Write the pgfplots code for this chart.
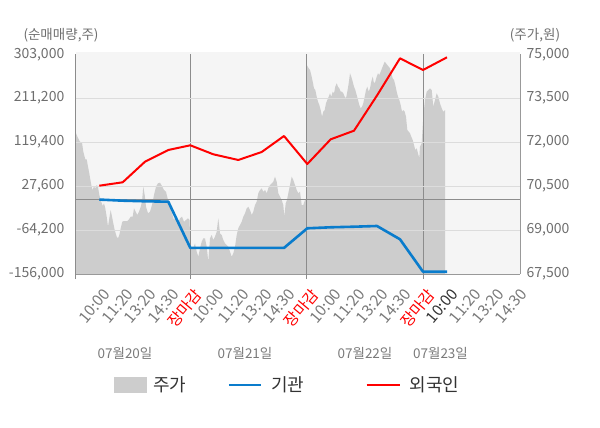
\documentclass[border=0pt]{standalone}
\usepackage{fontspec}
\setmainfont{Noto Sans CJK KR}
\usepackage{pgfplots}
\pgfplotsset{compat=1.18}
\definecolor{bg}{HTML}{F5F5F5}
\definecolor{areagray}{HTML}{CDCDCD}
\definecolor{gridgray}{HTML}{DCDCDC}
\definecolor{sepgray}{HTML}{8C8C8C}
\definecolor{axisgray}{HTML}{999999}
\definecolor{labgray}{HTML}{6E6E6E}
\definecolor{xgray}{HTML}{7A7A7A}
\definecolor{darktick}{HTML}{333333}
\definecolor{legtext}{HTML}{333333}
\definecolor{blueline}{HTML}{0A7CCC}
\definecolor{redline}{HTML}{FF0000}
\begin{document}
\begin{tikzpicture}
\useasboundingbox (0pt,0pt) rectangle (600pt,-428pt);
\fill[bg] (76pt,-274pt) rectangle (520pt,-51.7pt);
% ---------- price area (right axis)
\begin{axis}[
  at={(76pt,-274pt)}, anchor=south west,
  scale only axis, width=444pt, height=219.7pt,
  xmin=0, xmax=444, ymin=67500, ymax=75000,
  scaled y ticks=false, scaled x ticks=false,
  axis x line=none, axis y line*=right,
  y axis line style={draw=axisgray, line width=1pt, -},
  xtick=\empty,
  ytick={67500,69000,70500,72000,73500,75000},
  yticklabels={{67,500},{69,000},{70,500},{72,000},{73,500},{75,000}},
  major tick length=0pt,
  yticklabel style={font=\fontsize{14pt}{16pt}\selectfont, text=labgray, anchor=west, inner sep=0pt, xshift=6.5pt},
]
\addplot[fill=areagray, draw=none] coordinates {
(0,72303) (2,72142) (4,72016) (6,71982) (7.3,71675) (9.3,71415) (10.7,71415) (12,71163) (13.3,70937) (14.7,70651) (16.3,70367) (18,70480) (19.3,70425) (20.7,70538) (22,70480) (23.3,70196) (25.3,69968) (26.7,69821) (28,69913) (29.3,69742) (30.7,69456) (32,69114) (33.3,69401) (34.7,69684) (36,69456) (37.3,69230) (38.7,69002) (40.7,68773) (42,68718) (43.3,68831) (44.7,69060) (46.3,69285) (48,69309) (51.3,69309) (53,69367) (54.7,69456) (56.7,69456) (58,69742) (59.7,69626) (61.3,69514) (63,69626) (64.7,69797) (66,69968) (67.3,70480) (68.7,70196) (70,69797) (72,69572) (74,69626) (76,69855) (78,70196) (80,70480) (82,70596) (84,70616) (86,70504) (88,70367) (90,70309) (92,70026) (94,69855) (96,69572) (98,69343) (100,69456) (102,69230) (104,69401) (106,69456) (108,69285) (110,69343) (112,69401) (113.5,69343)
(114.5,68431) (117,68350) (119,68548) (120.7,68261) (122.3,68090) (124,68377) (125.7,68602) (127.3,68718) (129,68718) (130.7,68431) (132.3,67919) (134,68718) (135.7,68831) (137.3,68660) (139,68773) (140.7,68944) (142.3,69401) (144,68889) (145.7,68831) (147.3,68660) (149,68548) (150.7,68489) (152.3,68431) (154,68261) (155.7,68090) (157.3,68206) (159,68431) (160.7,68831) (162.3,69060) (164,69172) (165.7,69285) (167.3,69456) (169,69572) (170.7,69742) (172.3,69797) (174,69684) (175.7,69514) (177.3,69626) (179,69855) (180.7,69968) (182.3,70255) (184,70367) (185.7,70425) (187.3,70309) (189,70367) (190.7,70255) (192.3,70425) (194,70538) (195.7,70596) (197.3,70651) (199,70821) (200.7,70651) (202.3,70255) (204,70138) (205.7,70026) (207.3,69855) (208.3,69456) (209.7,69913) (211,70026) (212.3,70255) (214,70538) (215.7,70821) (217.3,70709) (219,70538) (220.7,70367) (222.3,70255) (224,70309) (225.7,69855) (227.3,69855) (229,70026) (230,70026)
(230.7,74635) (232.7,74522) (234,74464) (235.3,74293) (236.7,74065) (238,73839) (239.3,73781) (240.7,73552) (242,73382) (243.3,73269) (244.7,73098) (246,72870) (247.3,73040) (248.7,73098) (250,73327) (251.3,73440) (252.7,73552) (254,73669) (255.3,73552) (256.7,73723) (258,73669) (259.3,73894) (260.7,74010) (262,73894) (263.3,73839) (264.7,73723) (266,73723) (267.3,73669) (268.7,73552) (270,73498) (271.3,73723) (272.7,74010) (274,74351) (275.3,74235) (276.7,74065) (278,73894) (279.3,73781) (280.7,73610) (282,73440) (283.3,73269) (284.7,73156) (286,73211) (287.3,73327) (288.7,73552) (290,73781) (291.3,73894) (292.7,73723) (294,73839) (295.3,74065) (296.7,74235) (298,74010) (299.3,74065) (300.7,74235) (302,74351) (303.3,74293) (304.7,74406) (306,74522) (307.3,74635) (308.7,74747) (310,74693) (311.3,74635) (312.7,74577) (314,74522) (315.3,74351) (316.7,74181) (318,74123) (319.3,73952) (320.7,73723) (322,73552) (323.3,73440) (324.7,73269) (326,73040) (327.3,73098) (328.7,73040) (330,72870) (331.3,72416) (332.7,72358) (334,72303) (335.3,72187) (336.7,72074) (338,71903) (339.3,71733) (340.7,71791) (342,71620) (343.3,71449) (344,71845) (345.7,71962)
(347.3,72870) (349,73440) (350.7,73723) (352.3,73781) (354,73839) (355.7,73781) (357.3,73211) (359,73440) (360.7,73669) (362.3,73552) (364,73327) (365.7,73156) (367.3,73040) (369,73098)
} \closedcycle;
\end{axis}
% ---------- net buying lines (left axis)
\begin{axis}[
  at={(76pt,-274pt)}, anchor=south west,
  scale only axis, width=444pt, height=219.7pt,
  xmin=0, xmax=444, ymin=-156000, ymax=303000,
  scaled y ticks=false, scaled x ticks=false,
  axis x line*=bottom, axis y line*=left,
  axis line style={draw=axisgray, line width=1pt, -},
  ytick={-156000,-64200,27600,119400,211200,303000},
  yticklabels={{-156,000},{-64,200},{27,600},{119,400},{211,200},{303,000}},
  major tick length=0pt,
  yticklabel style={font=\fontsize{14pt}{16pt}\selectfont, text=labgray, anchor=east, inner sep=0pt, xshift=-11.5pt},
  extra y ticks={-64200,27600,119400,211200},
  extra y tick labels={},
  extra y tick style={grid=major, major grid style={draw=gridgray, line width=1pt}, major tick length=0pt},
  xtick={23.3,46.7,69,92.3,114,137.3,162.3,185.7,208,230.5,254.7,278,301,324,347,371,394,417,440},
  xticklabels={10:00,11:20,13:20,14:30,\textcolor{red}{장마감},10:00,11:20,13:20,14:30,\textcolor{red}{장마감},10:00,11:20,13:20,14:30,\textcolor{red}{장마감},\textcolor{darktick}{10:00},11:20,13:20,14:30},
  xticklabel style={font=\fontsize{15.5pt}{17pt}\selectfont, text=xgray, xshift=3pt, yshift=-13pt, rotate=50, anchor=north east, inner sep=0pt},
  extra x ticks={0,114,230.5,347},
  extra x tick labels={},
  extra x tick style={grid=major, major grid style={draw=sepgray, line width=1pt}, major tick length=5pt, tick align=outside, tick style={draw=sepgray, line width=1pt}},
  legend style={at={(axis description cs:0.0856,-0.505)}, anchor=west, draw=none, fill=none, inner sep=0pt, outer sep=0pt,
    nodes={anchor=west, inner sep=0pt, font=\fontsize{18pt}{20pt}\selectfont, text=legtext},
    /tikz/column 1/.style={column sep=7pt},
    /tikz/column 2/.style={column sep=41pt},
    /tikz/column 3/.style={column sep=9pt},
    /tikz/column 4/.style={column sep=61pt},
    /tikz/column 5/.style={column sep=9pt}},
  legend columns=3,
]
\addplot[sepgray, line width=1pt, forget plot] coordinates {(0,0) (444,0)};
\addlegendimage{legend image code/.code={\fill[areagray] (0pt,-7.5pt) rectangle (32pt,7.5pt);}}
\addlegendentry{주가}
\addplot[blueline, line width=2.6pt, line join=round, legend image code/.code={\draw[blueline, line width=2.6pt] (0pt,0pt) -- (32pt,0pt);}] coordinates {
(23.3,-500) (46.7,-2800) (69,-4100) (92.3,-4900) (114.3,-101500) (137.3,-101500) (162.3,-101500) (185.7,-101500) (208,-101500) (231.3,-60500) (254.7,-58400) (278,-57200) (301,-55700) (324,-83500) (347,-151200) (371,-151200)
};
\addlegendentry{기관}
\addplot[redline, line width=2pt, line join=round, legend image code/.code={\draw[redline, line width=2.6pt] (0pt,0pt) -- (33pt,0pt);}] coordinates {
(23.3,28500) (46.7,35600) (69,78600) (92.3,103100) (114.3,112900) (137.3,94100) (162.3,82200) (185.7,98900) (208,132300) (231.3,73800) (254.7,125400) (278,143400) (301,216900) (324,294600) (347,270200) (371,296700)
};
\addlegendentry{외국인}
\end{axis}
\node[font=\fontsize{13.5pt}{15pt}\selectfont, text=labgray] at (61pt,-35pt) {(순매매량,주)};
\node[font=\fontsize{13.5pt}{15pt}\selectfont, text=labgray] at (535pt,-35pt) {(주가,원)};
\node[font=\fontsize{13.5pt}{15pt}\selectfont, text=xgray] at (125pt,-353pt) {07월20일};
\node[font=\fontsize{13.5pt}{15pt}\selectfont, text=xgray] at (245pt,-353pt) {07월21일};
\node[font=\fontsize{13.5pt}{15pt}\selectfont, text=xgray] at (365pt,-353pt) {07월22일};
\node[font=\fontsize{13.5pt}{15pt}\selectfont, text=xgray] at (440.5pt,-353pt) {07월23일};
\end{tikzpicture}
\end{document}
